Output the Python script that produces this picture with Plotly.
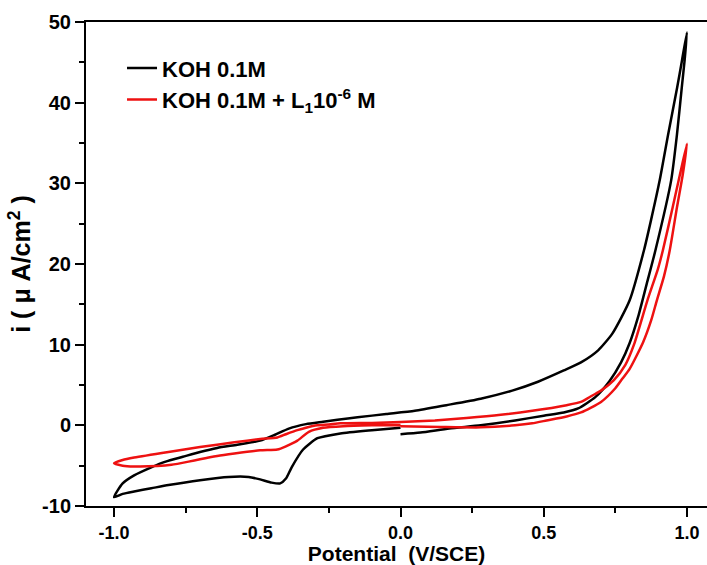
import plotly.graph_objects as go

# ---- data ----
# KOH 0.1M : forward (lower right), reverse (upper), return (lower left)
koh_fwd_x = [0.00, 0.07, 0.17, 0.28, 0.40, 0.50, 0.57, 0.62, 0.68, 0.73, 0.77, 0.80, 0.83,
             0.86, 0.89, 0.945, 0.965, 0.982, 0.992, 1.00]
koh_fwd_y = [-1.1, -0.9, -0.4, 0.0, 0.6, 1.2, 1.6, 2.1, 3.5, 5.5, 7.8, 10.2, 13.5,
             17.6, 21.7, 30.4, 36.0, 41.9, 45.3, 48.7]
koh_rev_x = [0.983, 0.966, 0.934, 0.905, 0.875, 0.85, 0.80, 0.74, 0.69, 0.63, 0.57,
             0.48, 0.39, 0.28, 0.16, 0.05, -0.05, -0.15, -0.22, -0.27, -0.33, -0.39, -0.44,
             -0.49, -0.57, -0.64, -0.70, -0.76, -0.82, -0.87, -0.93, -0.97, -1.00]
koh_rev_y = [45.3, 41.9, 36.0, 30.4, 25.5, 21.7, 15.5, 11.4, 9.3, 7.8, 6.8,
             5.4, 4.3, 3.3, 2.5, 1.8, 1.4, 1.0, 0.7, 0.45, 0.15, -0.4, -1.2,
             -1.9, -2.4, -2.8, -3.3, -3.9, -4.5, -5.2, -6.2, -7.2, -8.9]
koh_ret_x = [-0.97, -0.93, -0.87, -0.81, -0.70, -0.60, -0.53, -0.49, -0.45, -0.42, -0.40,
             -0.38, -0.34, -0.29, -0.21, -0.10, 0.00]
koh_ret_y = [-8.5, -8.2, -7.8, -7.4, -6.8, -6.4, -6.4, -6.7, -7.1, -7.2, -6.6,
             -5.2, -3.0, -1.6, -1.0, -0.6, -0.3]

# KOH 0.1M + L1 10^-6 M
lig_fwd_x = [0.00, 0.14, 0.28, 0.40, 0.46, 0.51, 0.58, 0.63, 0.70, 0.75, 0.775, 0.80, 0.847,
             0.875, 0.895, 0.92, 0.94, 0.965, 0.985, 1.00]
lig_fwd_y = [-0.1, -0.2, -0.25, 0.0, 0.25, 0.6, 1.1, 1.6, 2.9, 4.6, 5.8, 7.0, 10.3,
             13.0, 15.5, 18.5, 21.7, 27.0, 31.0, 34.9]
lig_rev_x = [0.975, 0.95, 0.916, 0.898, 0.862, 0.815, 0.785, 0.745, 0.70, 0.67, 0.63, 0.58,
             0.46, 0.35, 0.23, 0.12, 0.00, -0.10, -0.21, -0.25, -0.29, -0.33, -0.36, -0.40,
             -0.43, -0.49, -0.58, -0.70, -0.81, -0.93, -0.97, -1.00]
lig_rev_y = [31.0, 27.0, 21.7, 19.3, 15.5, 10.0, 7.5, 5.6, 4.3, 3.7, 2.9, 2.5,
             1.8, 1.3, 0.9, 0.6, 0.4, 0.3, 0.25, 0.1, 0.0, -0.3, -0.6, -1.1,
             -1.5, -1.7, -2.1, -2.7, -3.3, -4.0, -4.3, -4.7]
lig_ret_x = [-0.97, -0.93, -0.85, -0.80, -0.74, -0.70, -0.64, -0.58, -0.49, -0.43, -0.40,
             -0.36, -0.32, -0.27, -0.20, -0.10, 0.00]
lig_ret_y = [-5.0, -5.1, -5.05, -4.9, -4.5, -4.2, -3.8, -3.5, -3.1, -3.0, -2.6,
             -1.9, -0.8, -0.3, -0.1, 0.0, 0.05]

series_names = ["KOH 0.1M", "KOH 0.1M + L<sub>1</sub>10<sup>-6</sup> M"]
series_colors = ["#000000", "#ee1111"]

x_ticks = [-1.0, -0.5, 0.0, 0.5, 1.0]
y_ticks = [-10, 0, 10, 20, 30, 40, 50]

FONT = "Liberation Sans, Arial, sans-serif"

koh_x = koh_fwd_x + koh_rev_x + koh_ret_x
koh_y = koh_fwd_y + koh_rev_y + koh_ret_y
lig_x = lig_fwd_x + lig_rev_x + lig_ret_x
lig_y = lig_fwd_y + lig_rev_y + lig_ret_y

fig = go.Figure()
for name, color, xs, ys in [(series_names[0], series_colors[0], koh_x, koh_y),
                            (series_names[1], series_colors[1], lig_x, lig_y)]:
    fig.add_trace(go.Scatter(x=xs, y=ys, mode="lines", name=name,
                             line=dict(color=color, width=2.5, shape="spline", smoothing=0.6)))

axis_common = dict(showgrid=False, zeroline=False, showline=True, linecolor="black",
                   linewidth=2, ticks="outside", ticklen=9, tickwidth=2, tickcolor="black")

fig.update_xaxes(range=[-1.098, 1.070], tickvals=x_ticks,
                 ticktext=[f"{v:.1f}" for v in x_ticks], mirror=True,
                 tickfont=dict(family=FONT, size=18, color="black", weight="bold"),
                 minor=dict(dtick=0.25, tick0=-1.0, ticklen=5, tickwidth=2, ticks="outside",
                            tickcolor="black"),
                 title=dict(text="Potential  (V/SCE)", standoff=6,
                            font=dict(family=FONT, size=21, color="black", weight="bold")),
                 **axis_common)
fig.update_yaxes(range=[-10, 50], tickvals=y_ticks, ticktext=[str(v) for v in y_ticks],
                 tickfont=dict(family=FONT, size=20, color="black", weight="bold"),
                 minor=dict(dtick=5, tick0=0, ticklen=5, tickwidth=2, ticks="outside",
                            tickcolor="black"),
                 title=dict(text="i ( \u03bc A/cm<sup>2</sup> )", standoff=4,
                            font=dict(family=FONT, size=25, color="black", weight="bold")),
                 **axis_common)

fig.update_layout(
    width=707, height=565,
    margin=dict(l=86, r=0, t=22, b=59, autoexpand=False),
    paper_bgcolor="white", plot_bgcolor="white",
    font=dict(family=FONT, color="black"),
    legend=dict(x=0.058, y=0.948, xanchor="left", yanchor="top",
                bgcolor="rgba(0,0,0,0)", borderwidth=0, tracegroupgap=0,
                font=dict(family=FONT, size=22, color="black", weight="bold")),
)

fig.write_html("out.html")
